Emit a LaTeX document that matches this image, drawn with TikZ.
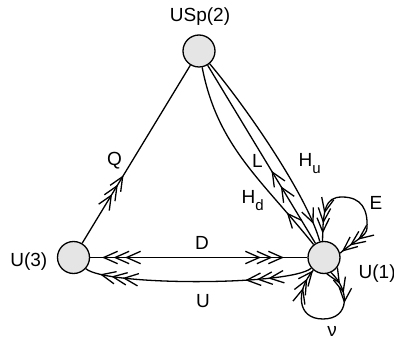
\documentclass[tikz,border=0pt]{standalone}
\usepackage{fontspec}
\setmainfont{Liberation Sans}
\usetikzlibrary{decorations.markings}
\definecolor{nodefill}{RGB}{229,229,229}
\newcommand{\chevF}{\draw[chevline] (-14pt,6.2pt) -- (0pt,0pt) -- (-14pt,-6.2pt);}
\newcommand{\chevB}{\draw[chevline] (14pt,6.2pt) -- (0pt,0pt) -- (14pt,-6.2pt);}
\newcommand{\subtxt}[1]{\raisebox{-7pt}{\fontsize{15}{17}\selectfont #1}}
\tikzset{
  chevline/.style={draw=black, line width=1.3pt, line join=miter, line cap=butt},
  fwd/.style={postaction={decorate, decoration={markings, mark=at position #1 with {\chevF}}}},
  bwd/.style={postaction={decorate, decoration={markings, mark=at position #1 with {\chevB}}}},
  gauge/.style={circle, draw=black, line width=1.3pt, fill=nodefill, minimum size=32pt, inner sep=0pt},
  lbl/.style={anchor=base, inner sep=0pt, font=\fontsize{19}{22}\selectfont},
  conn/.style={draw=black, line width=1.3pt}
}
\begin{document}
\begin{tikzpicture}[x=1pt,y=-1pt]
\useasboundingbox (0,0) rectangle (394,339);
\node[gauge] (usp) at (199,51) {};
\node[gauge] (u3) at (73.5,257.5) {};
\node[gauge] (u1) at (324,257.5) {};
\node[lbl] (tusp) at (200,21.7) {USp(2)};
\node[lbl] (tu3) at (28.8,266.7) {U(3)};
\node[lbl, anchor=base west] (tu1) at (358.5,278.6) {U(1)};
\node[lbl] (tq) at (114.5,165.5) {Q};
\node[lbl] (td) at (202,250) {D};
\node[lbl] (tu) at (203,307.5) {U};
\node[lbl] (tl) at (257.5,168) {L};
\node[lbl, anchor=base west] (thd) at (241.5,204) {H\subtxt{d}};
\node[lbl, anchor=base west] (thu) at (298.5,166.5) {H\subtxt{u}};
\node[lbl] (te) at (376,209.5) {E};
\node[lbl] (tnu) at (332,337) {ν};
% Q
\draw[conn, fwd=78pt, fwd=67pt, fwd=56pt] (u3) -- (usp);
% D
\draw[conn, bwd=13.5pt, bwd=25pt, bwd=36.5pt, fwd=-25pt, fwd=-36.5pt, fwd=-48pt] (u3) -- (u1);
% U
\draw[conn, bwd=17pt, bwd=28.5pt, bwd=40pt, bwd=-66pt, bwd=-54.5pt, bwd=-43pt] (u3) .. controls (105,286) and (290,286) .. (u1);
% H_d
\draw[conn, bwd=-40pt] (usp) .. controls (217.5,146.5) and (261,179) .. (u1);
% L
\draw[conn, bwd=125pt, bwd=143pt] (usp) -- (u1);
% H_u
\draw[conn, fwd=-20pt] (usp) .. controls (250.4,112.3) and (308.5,199) .. (u1);
% E loop
\draw[conn, bwd=9pt, bwd=19pt, bwd=29pt, fwd=-4pt, fwd=-14pt, fwd=-24pt] (u1.95) .. controls (323,210) and (325,197) .. (342,197) .. controls (362,197) and (368,210) .. (367,228) .. controls (367,236) and (354,241) .. (u1.15);
% nu loop
\draw[conn, bwd=2pt, bwd=12pt, bwd=22pt, bwd=-33pt, bwd=-23pt, bwd=-13pt] (u1.230) .. controls (296,290) and (296,319) .. (323,319) .. controls (350,319) and (350,290) .. (u1.295);
\end{tikzpicture}
\end{document}
